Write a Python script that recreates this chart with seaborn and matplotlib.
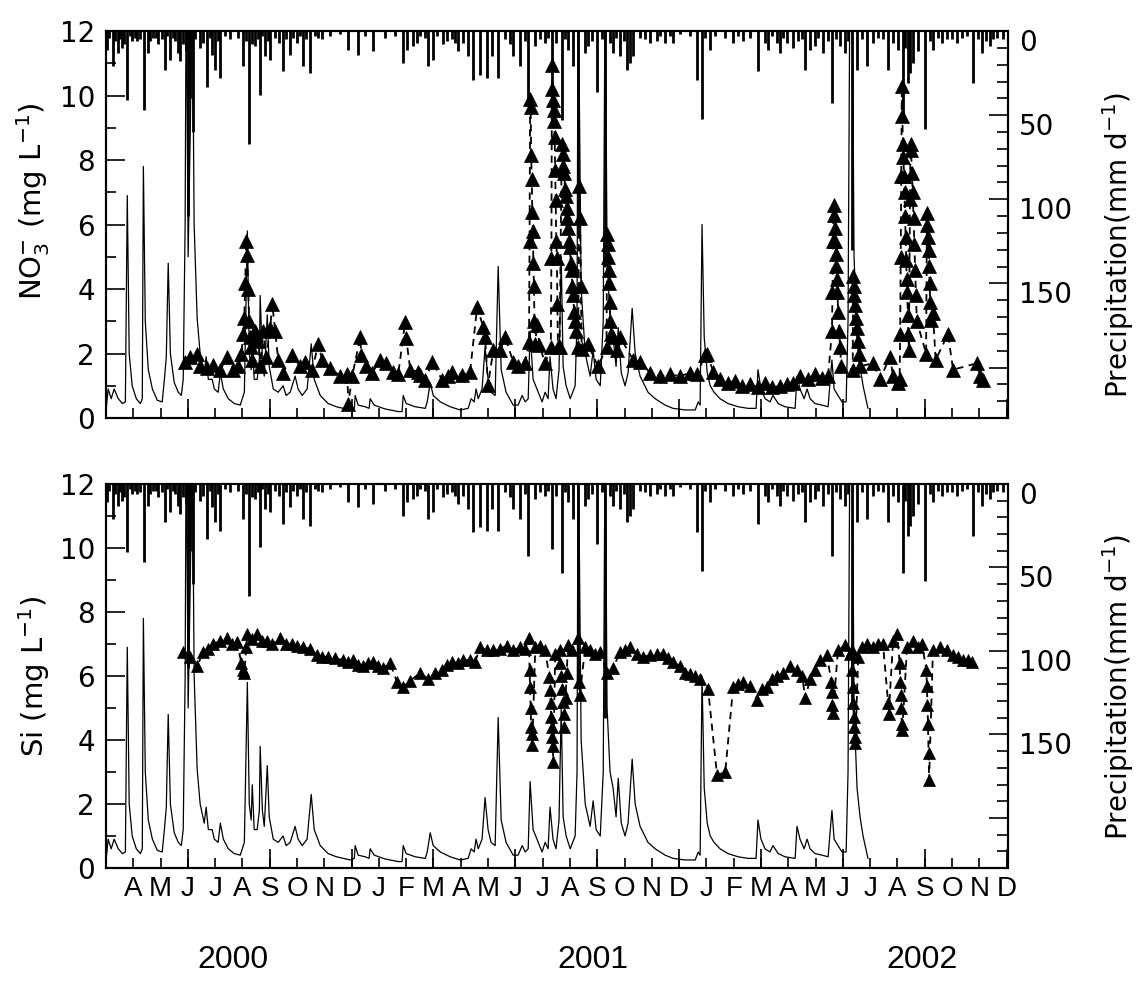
import matplotlib
matplotlib.use("Agg")
import pandas as pd
import seaborn as sns
import matplotlib.pyplot as plt
import matplotlib.transforms as mtransforms
from matplotlib.ticker import MultipleLocator, FixedLocator

# ------------------------------------------------------------
# Stream NO3- / Si with discharge and daily precipitation
# x axis = months counted from April 2000 (0 = A, 32 = D 2002)
# ------------------------------------------------------------

month_labels = list("AMJJASONDJFMAMJJASONDJFMAMJJASOND")
year_labels = ["2000", "2001", "2002"]

# daily precipitation (mm/d)
precip_t = [-0.95, -0.88, -0.73, -0.66, -0.55, -0.48, -0.40, -0.33, -0.22, -0.11,
            -0.04, 0.07, 0.15, 0.26, 0.40, 0.55, 0.62, 0.73, 0.84, 0.92,
            1.06, 1.17, 1.25, 1.36, 1.47, 1.54, 1.65, 1.72, 1.83, 1.94,
            2.01, 2.09, 2.20, 2.27, 2.45, 2.56, 2.71, 2.82, 2.89, 3.00,
            3.11, 3.19, 3.37, 3.55, 3.85, 4.03, 4.14, 4.25, 4.36, 4.47,
            4.58, 4.65, 4.73, 4.84, 4.95, 5.02, 5.20, 5.35, 5.49, 5.60,
            5.75, 5.86, 6.01, 6.12, 6.23, 6.34, 6.48, 6.67, 6.78, 6.92,
            7.22, 7.58, 7.88, 8.24, 8.50, 8.79, 9.23, 9.60, 9.89, 10.04,
            10.26, 10.40, 10.51, 10.70, 10.81, 10.99, 11.14, 11.36, 11.50, 11.68,
            11.79, 11.90, 12.09, 12.27, 12.45, 12.71, 12.97, 13.15, 13.37, 13.63,
            13.81, 13.92, 14.18, 14.36, 14.47, 14.73, 14.91, 15.09, 15.20, 15.35,
            15.49, 15.71, 15.82, 15.93, 16.12, 16.30, 16.56, 16.67, 16.81, 17.00,
            17.18, 17.29, 17.47, 17.58, 17.69, 17.84, 17.99, 18.10, 18.21, 18.32,
            18.57, 18.75, 18.94, 19.19, 19.30, 19.49, 19.67, 19.78, 20.04, 20.40,
            20.66, 20.84, 20.95, 21.14, 21.32, 21.69, 21.98, 22.16, 22.34, 22.60,
            22.89, 23.15, 23.26, 23.41, 23.59, 23.70, 23.81, 23.96, 24.18, 24.36,
            24.51, 24.62, 24.80, 24.98, 25.09, 25.27, 25.46, 25.60, 25.75, 25.90,
            26.08, 26.19, 26.34, 26.52, 26.70, 26.89, 27.11, 27.29, 27.47, 27.66,
            27.84, 28.02, 28.21, 28.28, 28.39, 28.46, 28.57, 28.75, 29.01, 29.19,
            29.30, 29.49, 29.63, 29.82, 30.00, 30.18, 30.37, 30.55, 30.77, 30.95,
            31.10, 31.25, 31.39, 31.50, 31.65, 31.87]
precip_mm = [11, 4, 21, 6, 13, 5, 10, 8, 41, 3,
             6, 4, 6, 5, 47, 13, 6, 4, 4, 8,
             5, 23, 3, 17, 4, 6, 13, 18, 8, 12,
             110, 40, 60, 5, 10, 7, 33, 4, 14, 23,
             6, 28, 3, 5, 4, 21, 6, 67, 8, 9,
             5, 38, 3, 15, 6, 17, 4, 7, 24, 5,
             14, 4, 7, 3, 21, 5, 25, 3, 4, 5,
             3, 2, 11, 14, 3, 12, 4, 3, 19, 11,
             9, 7, 3, 4, 21, 17, 3, 8, 6, 5,
             7, 12, 7, 15, 29, 26, 28, 15, 28, 5,
             8, 15, 21, 6, 43, 9, 5, 7, 4, 39,
             7, 53, 5, 11, 21, 120, 13, 9, 6, 36,
             5, 140, 7, 13, 4, 15, 6, 23, 19, 15,
             4, 5, 7, 6, 3, 7, 3, 7, 2, 3,
             29, 52, 4, 11, 3, 4, 7, 3, 6, 4,
             24, 7, 11, 3, 7, 13, 4, 7, 10, 6,
             5, 23, 11, 9, 4, 13, 6, 43, 5, 9,
             13, 6, 130, 23, 5, 21, 7, 4, 5, 23,
             7, 11, 53, 10, 31, 25, 19, 12, 58, 6,
             11, 4, 7, 5, 5, 7, 4, 3, 31, 5,
             13, 6, 9, 5, 4, 5]

# stream discharge trace (drawn on the left scale, no own axis)
flow_t = [-0.99, -0.92, -0.81, -0.70, -0.55, -0.40, -0.29, -0.22, -0.15, -0.04,
          0.11, 0.26, 0.33, 0.37, 0.44, 0.55, 0.70, 0.88, 1.06, 1.14,
          1.21, 1.28, 1.36, 1.50, 1.65, 1.76, 1.83, 1.90, 1.94, 2.01,
          2.09, 2.16, 2.23, 2.34, 2.45, 2.60, 2.67, 2.75, 2.89, 2.97,
          3.11, 3.19, 3.30, 3.48, 3.70, 3.92, 4.07, 4.18, 4.25, 4.32,
          4.36, 4.43, 4.54, 4.62, 4.65, 4.73, 4.80, 4.91, 4.98, 5.13,
          5.31, 5.49, 5.60, 5.75, 5.93, 6.04, 6.19, 6.37, 6.52, 6.63,
          6.85, 7.14, 7.44, 7.69, 7.95, 8.10, 8.13, 8.24, 8.50, 8.64,
          8.68, 8.83, 9.23, 9.71, 9.85, 9.89, 10.00, 10.33, 10.70, 10.77,
          10.88, 10.99, 11.25, 11.61, 11.98, 12.27, 12.38, 12.49, 12.56, 12.64,
          12.78, 12.89, 13.00, 13.11, 13.26, 13.37, 13.48, 13.66, 13.92, 14.10,
          14.25, 14.36, 14.47, 14.54, 14.65, 14.84, 14.98, 15.09, 15.20, 15.27,
          15.38, 15.49, 15.60, 15.68, 15.75, 15.86, 16.01, 16.19, 16.26, 16.30,
          16.41, 16.56, 16.74, 16.85, 16.96, 17.11, 17.22, 17.29, 17.36, 17.47,
          17.58, 17.69, 17.77, 17.88, 18.02, 18.13, 18.28, 18.39, 18.57, 18.86,
          19.12, 19.49, 19.78, 20.22, 20.59, 20.70, 20.77, 20.84, 20.92, 21.03,
          21.14, 21.28, 21.50, 21.79, 22.16, 22.53, 22.82, 22.89, 23.00, 23.15,
          23.33, 23.44, 23.63, 23.88, 24.25, 24.32, 24.43, 24.58, 24.69, 24.80,
          24.98, 25.24, 25.46, 25.53, 25.60, 25.68, 25.82, 25.97, 26.12, 26.19,
          26.26, 26.34, 26.41, 26.52, 26.63, 26.74, 26.92]
flow_q = [0.3, 0.9, 0.6, 0.9, 0.6, 0.45, 0.5, 6.9, 2.0, 1.0,
          0.6, 0.45, 0.6, 7.8, 3.0, 1.5, 0.9, 0.55, 0.5, 1.2,
          1.9, 4.8, 2.0, 1.1, 0.8, 0.7, 1.2, 6.0, 14, 5.0,
          9.0, 14, 6.0, 3.1, 2.0, 1.4, 1.9, 1.2, 1.2, 0.9,
          0.8, 1.4, 0.9, 0.6, 0.45, 0.4, 0.8, 5.8, 2.0, 1.5,
          2.6, 1.2, 1.2, 1.8, 3.8, 1.8, 1.3, 3.2, 1.6, 0.9,
          0.8, 1.0, 0.7, 0.8, 1.3, 0.9, 0.7, 0.9, 2.3, 1.2,
          0.7, 0.45, 0.35, 0.3, 0.25, 0.3, 0.7, 0.4, 0.35, 0.3,
          0.6, 0.4, 0.28, 0.2, 0.2, 0.7, 0.45, 0.35, 0.3, 0.5,
          1.1, 0.7, 0.5, 0.35, 0.25, 0.3, 0.6, 0.5, 0.9, 0.6,
          0.9, 2.2, 1.2, 0.8, 0.7, 4.7, 1.5, 0.8, 0.4, 0.4,
          0.7, 0.5, 0.6, 2.7, 1.2, 0.8, 0.5, 0.8, 0.6, 1.9,
          0.9, 0.6, 1.5, 5.0, 1.6, 1.0, 0.6, 1.0, 3.0, 14,
          4.0, 2.0, 1.3, 2.1, 1.2, 1.0, 3.0, 14, 5.0, 3.0,
          2.5, 1.6, 2.8, 1.4, 1.0, 1.4, 3.4, 2.0, 1.3, 0.8,
          0.6, 0.4, 0.3, 0.25, 0.25, 0.5, 0.4, 6.0, 2.5, 1.4,
          1.0, 0.8, 0.6, 0.45, 0.35, 0.3, 0.3, 1.5, 0.9, 0.6,
          0.5, 0.7, 0.45, 0.35, 0.3, 1.3, 0.9, 0.6, 0.9, 0.6,
          0.45, 0.4, 0.35, 1.1, 1.8, 0.9, 0.7, 0.5, 0.5, 3.0,
          14, 14, 5.0, 2.5, 1.6, 1.0, 0.3]

# NO3- concentration (mg/L)
no3_t = [1.90, 2.09, 2.34, 2.45, 2.71, 2.93, 3.19, 3.44, 3.66, 3.85,
         3.96, 4.03, 4.07, 4.10, 4.14, 4.18, 4.21, 4.25, 4.29, 4.32,
         4.36, 4.40, 4.47, 4.58, 4.65, 4.76, 4.87, 5.02, 5.09, 5.20,
         5.31, 5.49, 5.82, 6.12, 6.30, 6.56, 6.78, 6.92, 7.22, 7.58,
         7.84, 7.88, 8.02, 8.32, 8.35, 8.53, 8.75, 9.05, 9.27, 9.52,
         9.71, 9.96, 10.00, 10.15, 10.44, 10.51, 10.70, 10.95, 11.32, 11.54,
         11.68, 12.05, 12.34, 12.60, 12.82, 12.89, 13.00, 13.19, 13.44, 13.63,
         13.92, 14.10, 14.36, 14.50, 14.52, 14.54, 14.56, 14.58, 14.60, 14.62,
         14.64, 14.66, 14.68, 14.70, 14.72, 14.80, 14.88, 15.09, 15.30, 15.32,
         15.34, 15.36, 15.38, 15.40, 15.42, 15.44, 15.46, 15.48, 15.50, 15.52,
         15.54, 15.56, 15.62, 15.70, 15.73, 15.76, 15.79, 15.82, 15.85, 15.88,
         15.91, 15.94, 15.97, 16.00, 16.03, 16.06, 16.09, 16.12, 16.15, 16.18,
         16.21, 16.30, 16.34, 16.37, 16.40, 16.43, 16.65, 17.03, 17.34, 17.36,
         17.38, 17.40, 17.42, 17.44, 17.46, 17.48, 17.50, 17.58, 17.73, 17.84,
         18.32, 18.57, 18.94, 19.30, 19.67, 20.04, 20.40, 20.66, 20.95, 21.03,
         21.25, 21.50, 21.79, 22.05, 22.31, 22.60, 22.89, 23.15, 23.41, 23.70,
         23.96, 24.18, 24.43, 24.73, 24.98, 25.24, 25.46, 25.60, 25.62, 25.64,
         25.66, 25.68, 25.70, 25.72, 25.74, 25.76, 25.78, 25.80, 25.83, 25.86,
         25.90, 25.94, 26.36, 26.38, 26.40, 26.42, 26.45, 26.48, 26.51, 26.54,
         26.58, 26.62, 27.11, 27.36, 27.73, 27.84, 28.02, 28.08, 28.10, 28.12,
         28.14, 28.16, 28.18, 28.20, 28.22, 28.24, 28.26, 28.28, 28.30, 28.32,
         28.34, 28.36, 28.38, 28.40, 28.42, 28.46, 28.48, 28.50, 28.53, 28.56,
         28.59, 28.62, 28.65, 28.68, 28.71, 29.05, 29.08, 29.10, 29.12, 29.14,
         29.16, 29.18, 29.20, 29.22, 29.30, 29.40, 29.85, 30.04, 30.92, 31.03,
         31.14]
no3_v = [1.74, 1.9, 2.0, 1.6, 1.55, 1.65, 1.5, 1.9, 1.5, 1.6,
         2.0, 2.6, 3.1, 4.2, 5.5, 5.05, 4.0, 3.0, 2.5, 2.2,
         1.8, 2.6, 2.7, 2.4, 1.6, 2.7, 1.9, 2.8, 3.55, 2.7,
         1.8, 1.4, 1.95, 1.6, 1.75, 1.5, 2.3, 1.8, 1.55, 1.3,
         1.35, 0.45, 1.3, 2.5, 1.95, 1.6, 1.4, 1.8, 1.7, 1.43,
         1.38, 2.98, 2.47, 1.5, 1.43, 1.33, 1.18, 1.74, 1.18, 1.3,
         1.43, 1.33, 1.43, 3.45, 2.83, 2.5, 1.02, 2.1, 2.1, 2.5,
         1.74, 1.6, 1.7, 2.35, 5.5, 9.9, 9.65, 8.15, 7.4, 6.4,
         5.8, 4.8, 4.1, 3.0, 2.3, 2.9, 2.26, 1.7, 2.2, 4.95,
         10.95, 10.2, 9.85, 9.55, 9.2, 8.7, 7.7, 6.75, 5.5, 4.95,
         3.55, 2.2, 2.2, 8.5, 8.2, 7.8, 7.6, 7.1, 6.9, 6.5,
         6.2, 5.9, 5.5, 5.3, 4.8, 4.6, 4.1, 3.8, 3.3, 3.0,
         2.7, 2.2, 7.2, 6.2, 4.1, 2.15, 2.3, 1.6, 2.2, 5.7,
         5.4, 5.0, 4.6, 4.2, 3.6, 3.0, 2.6, 2.5, 2.1, 2.5,
         1.8, 1.75, 1.4, 1.3, 1.35, 1.3, 1.4, 1.35, 1.95, 2.0,
         1.43, 1.2, 1.1, 1.15, 1.0, 1.05, 0.95, 1.1, 0.95, 1.0,
         1.05, 1.1, 1.3, 1.2, 1.35, 1.25, 1.3, 2.7, 3.9, 5.5,
         6.6, 6.3, 5.9, 5.5, 5.1, 4.7, 4.3, 3.9, 3.3, 2.7,
         2.2, 1.6, 1.5, 4.4, 4.1, 3.8, 3.5, 3.1, 2.8, 2.4,
         2.0, 1.6, 1.7, 1.2, 1.9, 1.3, 1.1, 1.2, 2.6, 5.0,
         7.5, 10.3, 9.35, 8.5, 8.1, 7.5, 7.0, 6.25, 5.6, 4.9,
         4.3, 3.9, 3.2, 2.6, 2.1, 6.8, 8.5, 8.3, 7.6, 7.0,
         6.2, 5.4, 4.6, 3.8, 3.0, 2.0, 6.35, 6.0, 5.6, 5.2,
         4.7, 4.2, 3.6, 3.05, 3.25, 1.8, 2.6, 1.5, 1.7, 1.3,
         1.18]

# Si concentration (mg/L)
si_t = [1.83, 2.09, 2.34, 2.56, 2.75, 2.93, 3.19, 3.44, 3.63, 3.81,
        3.96, 4.03, 4.07, 4.14, 4.18, 4.36, 4.54, 4.73, 4.91, 5.09,
        5.38, 5.60, 5.82, 6.01, 6.23, 6.48, 6.74, 6.92, 7.14, 7.40,
        7.69, 7.88, 8.06, 8.24, 8.42, 8.61, 8.79, 8.97, 9.16, 9.41,
        9.67, 9.89, 10.15, 10.51, 10.81, 11.06, 11.32, 11.50, 11.68, 11.90,
        12.09, 12.34, 12.53, 12.71, 12.97, 13.19, 13.44, 13.70, 13.92, 14.18,
        14.36, 14.50, 14.52, 14.54, 14.56, 14.58, 14.60, 14.62, 14.73, 14.91,
        15.09, 15.25, 15.27, 15.29, 15.31, 15.33, 15.35, 15.37, 15.39, 15.46,
        15.62, 15.65, 15.68, 15.71, 15.74, 15.77, 15.80, 15.84, 15.88, 15.93,
        16.08, 16.30, 16.33, 16.36, 16.56, 16.74, 16.92, 17.11, 17.36, 17.58,
        17.84, 18.02, 18.21, 18.46, 18.68, 18.94, 19.19, 19.41, 19.60, 19.78,
        20.04, 20.22, 20.40, 20.59, 20.77, 21.06, 21.39, 21.69, 21.98, 22.16,
        22.34, 22.60, 22.86, 23.04, 23.22, 23.41, 23.59, 23.81, 24.07, 24.32,
        24.51, 24.62, 24.80, 24.98, 25.16, 25.42, 25.58, 25.60, 25.62, 25.64,
        25.82, 26.08, 26.26, 26.32, 26.34, 26.36, 26.38, 26.40, 26.42, 26.44,
        26.46, 26.56, 26.70, 26.89, 27.11, 27.29, 27.47, 27.66, 27.68, 27.84,
        27.99, 28.08, 28.10, 28.12, 28.14, 28.16, 28.18, 28.35, 28.57, 28.75,
        28.90, 29.06, 29.08, 29.10, 29.12, 29.14, 29.16, 29.30, 29.56, 29.82,
        30.04, 30.22, 30.40, 30.59, 30.73]
si_v = [6.75, 6.6, 6.3, 6.75, 6.85, 7.0, 7.1, 7.2, 7.0, 7.05,
        6.4, 6.2, 6.1, 6.9, 7.3, 7.15, 7.3, 7.1, 7.1, 7.0,
        7.2, 7.0, 7.0, 6.95, 6.9, 6.85, 6.65, 6.6, 6.6, 6.55,
        6.5, 6.45, 6.5, 6.35, 6.3, 6.4, 6.45, 6.3, 6.25, 6.4,
        5.8, 5.65, 5.85, 6.1, 5.9, 6.1, 6.2, 6.35, 6.45, 6.4,
        6.5, 6.5, 6.45, 6.9, 6.8, 6.8, 6.85, 6.95, 6.8, 6.9,
        6.85, 7.2, 6.2, 5.65, 5.0, 4.4, 4.2, 3.85, 6.9, 6.95,
        6.8, 5.97, 5.56, 5.15, 4.73, 4.4, 4.1, 3.8, 3.3, 6.7,
        6.8, 6.4, 6.0, 5.6, 5.2, 4.8, 4.4, 5.3, 6.1, 6.97,
        6.8, 7.2, 5.8, 5.4, 6.9, 6.8, 6.7, 6.75, 6.1, 6.25,
        6.75, 6.8, 6.9, 6.7, 6.6, 6.65, 6.7, 6.7, 6.55, 6.45,
        6.3, 6.1, 6.05, 6.0, 5.9, 5.6, 2.9, 3.0, 5.65, 5.75,
        5.8, 5.7, 5.25, 5.6, 5.65, 5.9, 6.0, 6.1, 6.3, 6.2,
        6.0, 5.3, 5.9, 6.2, 6.5, 6.65, 5.8, 5.5, 5.1, 4.85,
        6.8, 6.97, 6.7, 6.8, 6.2, 5.67, 5.15, 4.73, 4.4, 4.1,
        3.9, 6.6, 6.9, 7.0, 6.9, 7.0, 7.0, 5.15, 4.8, 7.1,
        7.3, 6.4, 5.8, 5.4, 5.0, 4.5, 4.3, 6.9, 7.1, 6.9,
        7.0, 6.2, 5.7, 5.1, 4.5, 3.6, 2.75, 6.8, 6.9, 6.8,
        6.65, 6.6, 6.5, 6.5, 6.45]

flow = pd.DataFrame({"t": flow_t, "q": flow_q})
rain = pd.DataFrame({"t": precip_t, "mm": precip_mm})
no3 = pd.DataFrame({"t": no3_t, "c": no3_v})
si = pd.DataFrame({"t": si_t, "c": si_v})

sns.set_style("ticks")
plt.rcParams["font.family"] = ["DejaVu Sans"]
plt.rcParams["mathtext.fontset"] = "dejavusans"
plt.rcParams["axes.edgecolor"] = "black"
plt.rcParams["axes.labelcolor"] = "black"
plt.rcParams["axes.linewidth"] = 1.5
plt.rcParams["xtick.color"] = "black"
plt.rcParams["ytick.color"] = "black"
plt.rcParams["text.color"] = "black"

narrow = ["Liberation Sans Narrow", "Liberation Sans", "DejaVu Sans"]

fig = plt.figure(figsize=(11.36, 9.85), dpi=100)
ax_top = fig.add_axes([0.0933, 0.5756, 0.794, 0.3929])
ax_bot = fig.add_axes([0.0933, 0.1188, 0.794, 0.3898])


def panel(ax, conc, ms, ylabel, ylab_y, plab_y, show_months):
    sns.lineplot(data=flow, x="t", y="q", ax=ax, estimator=None, sort=False,
                 color="black", linewidth=0.9)
    sns.lineplot(data=conc, x="t", y="c", ax=ax, estimator=None, sort=False,
                 color="black", linewidth=1.3, linestyle=(0, (4, 3)),
                 marker="^", markersize=ms, markeredgecolor="black",
                 markerfacecolor="black", markeredgewidth=0.5)
    ax.set_xlim(-1.0, 32.05)
    ax.set_ylim(0, 12)
    ax.set_yticks(range(0, 13, 2))
    ax.yaxis.set_minor_locator(MultipleLocator(1))
    ax.tick_params(axis="y", which="major", direction="in", length=14, width=1.2,
                   labelsize=20, pad=8, left=True)
    ax.tick_params(axis="y", which="minor", direction="in", length=7, width=1.2, left=True)

    ax.set_xticks(range(len(month_labels)))
    ax.xaxis.set_minor_locator(FixedLocator(range(2, 33, 3)))
    ax.xaxis.remove_overlapping_locs = False
    ax.tick_params(axis="x", which="major", direction="in", length=7, width=1.2,
                   pad=6, bottom=True)
    ax.tick_params(axis="x", which="minor", direction="in", length=14, width=1.2,
                   bottom=True)
    if show_months:
        ax.set_xticklabels(month_labels, fontsize=20, family=narrow)
    else:
        ax.set_xticklabels([])
    ax.set_xlabel("")
    ax.set_ylabel(ylabel, fontsize=21)
    ax.yaxis.set_label_coords(-0.06, ylab_y)

    # precipitation on an inverted right axis, bars hanging from the top
    ax2 = ax.twinx()
    ax2.vlines(rain["t"], 0, rain["mm"], colors="black", linewidth=2.0)
    ax2.set_ylim(230, 0)
    ax2.set_yticks([0, 50, 100, 150, 200])
    ax2.set_yticklabels(["0", "50", "100", "150", ""])
    ax2.yaxis.set_minor_locator(MultipleLocator(10))
    ax2.tick_params(axis="y", which="major", direction="in", length=14, width=1.2,
                    labelsize=20, pad=8, right=True)
    ax2.tick_params(axis="y", which="minor", direction="in", length=8, width=1.2, right=True)
    ax2.set_ylabel("Precipitation(mm d$^{-1}$)", fontsize=20)
    ax2.yaxis.set_label_coords(1.102, plab_y)
    for s in ax2.spines.values():
        s.set_linewidth(1.5)
    # labels sit a little below their ticks in the original
    shift = mtransforms.ScaledTranslation(0, -0.09, fig.dpi_scale_trans)
    for lab in ax2.get_yticklabels():
        lab.set_transform(lab.get_transform() + shift)
    return ax2


panel(ax_top, no3, 10, "NO$_3^{-}$ (mg L$^{-1}$)", 0.56, 0.447, False)
panel(ax_bot, si, 9, "Si (mg L$^{-1}$)", 0.50, 0.471, True)

for x_px, lab in zip([233, 593, 922], year_labels):
    fig.text(x_px / 1136, 1 - 960 / 985, lab, ha="center", va="center",
             fontsize=23, family=narrow)

fig.savefig("out.png", dpi=100)
